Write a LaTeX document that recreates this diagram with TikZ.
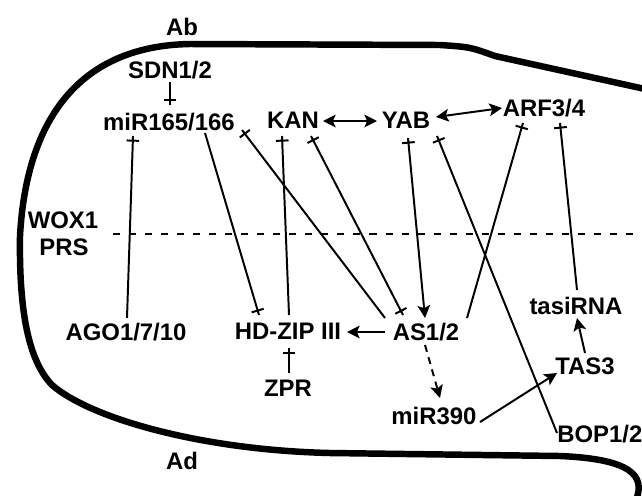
\documentclass[tikz,border=0pt]{standalone}
\usepackage{fontspec}
\setmainfont{Liberation Sans}
\usetikzlibrary{arrows.meta,calc}

\begin{document}
\begin{tikzpicture}[x=0.025cm, y=-0.025cm,
    lbl/.style={font=\fontsize{17}{19}\selectfont\bfseries, inner sep=0pt, text height=12.2pt, text depth=0pt},
    wall/.style={line width=4.6pt, line join=round},
    inh/.style={-{Bar[width=9pt] Rectangle[length=2.6pt, width=1.4pt, sep=0pt]}, line width=1.4pt},
    act/.style={-{Stealth[length=9pt, width=9pt, inset=2pt]}, line width=1.4pt},
    both/.style={{Stealth[length=9pt, width=9pt, inset=2pt]}-{Stealth[length=9pt, width=9pt, inset=2pt]}, line width=1.4pt},
    inhact/.style={{Rectangle[length=2.6pt, width=1.4pt, sep=0pt] Bar[width=9pt]}-{Stealth[length=9pt, width=9pt, inset=2pt]}, line width=1.4pt},
    inhinh/.style={{Rectangle[length=2.6pt, width=1.4pt, sep=0pt] Bar[width=9pt]}-{Bar[width=9pt] Rectangle[length=2.6pt, width=1.4pt, sep=0pt]}, line width=1.4pt}
]
\useasboundingbox (0,0) rectangle (642,495);

\draw[wall] (645,89) -- (495,56) .. controls (470,47) .. (440,45) -- (190,44)
    .. controls (75,46) and (26,125) .. (20,236)
    .. controls (19,310) and (28,360) .. (52,385)
    .. controls (90,418) and (200,450) .. (330,453) -- (560,456)
    .. controls (630,459) and (646,475) .. (636,500);

\coordinate (midl) at (113,234);
\coordinate (midr) at (642,234);
\draw[line width=1.4pt, dash pattern=on 5pt off 6.4pt] (midl) -- (midr);

\node[lbl] (ab) at (182,27) {Ab};
\node[lbl] (ad) at (182,461) {Ad};
\node[lbl] (wox) at (63,220) {WOX1};
\node[lbl] (prs) at (64,247) {PRS};
\node[lbl] (sdn) at (170,70) {SDN1/2};
\node[lbl] (mir) at (169,122) {miR165/166};
\node[lbl] (kan) at (293,120) {KAN};
\node[lbl] (yab) at (406,120) {YAB};
\node[lbl] (arf) at (544,108) {ARF3/4};
\node[lbl] (ago) at (126,332) {AGO1/7/10};
\node[lbl] (hdz) at (288,331) {HD-ZIP III};
\node[lbl] (zpr) at (288,388) {ZPR};
\node[lbl] (as) at (426,332) {AS1/2};
\node[lbl] (tasi) at (576,306) {tasiRNA};
\node[lbl] (tas) at (585,366) {TAS3};
\node[lbl] (mirn) at (434,416) {miR390};
\node[lbl, anchor=west] (bop) at (557,434) {BOP1/2};

\draw[inh] ($(sdn)+(0,12)$) -- ($(mir)+(1,-17)$);
\draw[inh] ($(ago)+(1,-14)$) -- ($(mir)+(-36,14)$);
\draw[inh] ($(mir)+(36,11)$) -- ($(hdz)+(-29,-16)$);
\draw[inh] ($(as)+(-41,-14)$) -- ($(mir)+(73,8)$);
\draw[inh] ($(hdz)+(1,-16)$) -- ($(kan)+(-11,16)$);
\draw[inhinh] ($(kan)+(18,16)$) -- ($(as)+(-23,-17)$);
\draw[both] ($(kan)+(30,1)$) -- ($(yab)+(-29,1)$);
\draw[inhact] ($(yab)+(2,18)$) -- ($(as)+(-1,-14)$);
\draw[inh] ($(bop.west)+(0,-1)$) -- ($(yab)+(31,16)$);
\draw[both] ($(yab)+(30,-3)$) -- ($(arf)+(-42,0)$);
\draw[inh] ($(as)+(41,-14)$) -- ($(arf)+(-21,15)$);
\draw[inh] ($(tasi)+(1,-16)$) -- ($(arf)+(16,15)$);
\draw[act] ($(as)+(-41,0)$) -- ($(hdz)+(59,1)$);
\draw[act, dash pattern=on 5pt off 4pt] ($(as)+(-1,13)$) -- ($(mirn)+(6,-18)$);
\draw[act] ($(mirn)+(46,6)$) -- ($(tas)+(-28,7)$);
\draw[act] ($(tas)+(0,-13)$) -- ($(tasi)+(1,12)$);
\draw[inh] ($(zpr)+(1,-15)$) -- ($(hdz)+(1,17)$);
\end{tikzpicture}
\end{document}
